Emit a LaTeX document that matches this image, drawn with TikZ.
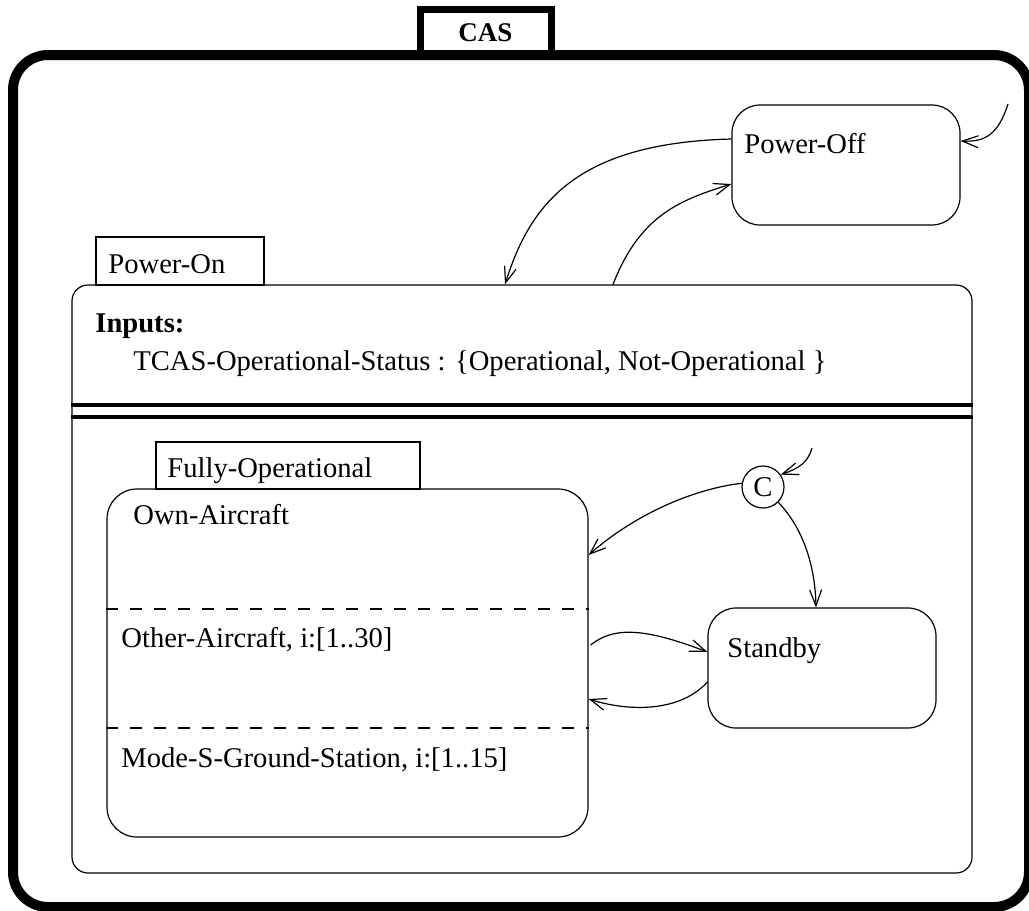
\documentclass[tikz,border=0pt]{standalone}
\usepackage{fontspec}
\setmainfont{Liberation Serif}
\usetikzlibrary{arrows.meta,calc}

\begin{document}
\begin{tikzpicture}[x=0.5pt, y=-0.5pt,
    state/.style={rectangle, draw, line width=0.6pt, rounded corners=14pt, minimum width=114pt, minimum height=60pt, inner sep=0pt},
    tab/.style={rectangle, draw, line width=0.6pt, inner sep=0pt},
    lbl/.style={anchor=base west, inner sep=0pt, font=\fontsize{14.3}{17}\selectfont},
    trans/.style={line width=0.6pt, -{Straight Barb[length=8pt,width=6pt]}}
]
\useasboundingbox (0,0) rectangle (1029,911);

% CAS chart
\node[tab, line width=3.5pt, minimum width=65.5pt, minimum height=23.5pt, font=\bfseries\fontsize{13.5}{16}\selectfont] (castab) at (485.5,32.5) {CAS};
\node[draw, line width=5pt, rounded corners=17.5pt, minimum width=508pt, minimum height=426pt] (cas) at (521,481) {};

% Power-Off
\node[state] (pwroff) at (846,165) {};
\node[lbl] (pwrofftxt) at (744,153) {Power-Off};
\coordinate (initoff) at (1008,104);

% Power-On
\node[tab, minimum width=84pt, minimum height=24pt] (pwrontab) at (180,261) {};
\node[lbl] (pwrontxt) at (108,273) {Power-On};
\node[draw, line width=0.6pt, rounded corners=8pt, minimum width=450pt, minimum height=294pt, inner sep=0pt] (pwron) at (522,579) {};
\node[lbl, font=\bfseries\fontsize{14.3}{17}\selectfont] (inputs) at (95,332) {Inputs:};
\node[lbl] (status) at (133,370) {TCAS-Operational-Status : \{Operational, Not-Operational \}};
\draw[line width=2pt] (pwron.west |- 0,405) -- (pwron.east |- 0,405);
\draw[line width=2pt] (pwron.west |- 0,417) -- (pwron.east |- 0,417);

% Fully-Operational
\node[tab, minimum width=132pt, minimum height=23.5pt] (fulltab) at (288,465.5) {};
\node[lbl] (fulltxt) at (167,477) {Fully-Operational};
\node[draw, line width=0.6pt, rounded corners=15pt, minimum width=240.5pt, minimum height=174pt, inner sep=0pt] (ownac) at (347.5,663) {};
\node[lbl] (owntxt) at (133,524) {Own-Aircraft};
\draw[line width=0.6pt, dash pattern=on 6pt off 6pt] (ownac.west |- 0,609) -- (ownac.east |- 0,609);
\node[lbl] (othertxt) at (121,647) {Other-Aircraft, i:[1..30]};
\draw[line width=0.6pt, dash pattern=on 6pt off 6pt] (ownac.west |- 0,728) -- (ownac.east |- 0,728);
\node[lbl] (modestxt) at (121,767) {Mode-S-Ground-Station, i:[1..15]};

% Condition and Standby
\node[circle, draw, line width=0.6pt, minimum size=21pt, inner sep=0pt, font=\fontsize{14.3}{17}\selectfont] (cnode) at (763,487) {C};
\coordinate (initc) at (812,448);
\node[state] (standby) at (822,668) {};
\node[lbl] (standbytxt) at (727,657) {Standby};

% Transitions
\draw[trans] (initoff) .. controls (998,135) and (985,142) .. ($(pwroff.east)+(0,-24)$);
\draw[trans] ($(pwroff.west)+(0,-26)$) .. controls (575,143) and (530,205) .. ($(pwron.north)+(-17,0)$);
\draw[trans] ($(pwron.north)+(91,0)$) .. controls (640,215) and (680,200) .. ($(pwroff.west)+(0,19)$);
\draw[trans] (initc) .. controls (808,462) and (800,468) .. (cnode.35);
\draw[trans] (cnode.170) .. controls (700,488) and (640,510) .. ($(ownac.east)+(0,-108)$);
\draw[trans] (cnode.-45) .. controls (800,525) and (815,560) .. ($(standby.north)+(-6,0)$);
\draw[trans] ($(ownac.east)+(2,-18)$) .. controls (612,628) and (640,626) .. ($(standby.west)+(0,-16)$);
\draw[trans] ($(standby.west)+(0,14)$) .. controls (680,712) and (630,712) .. ($(ownac.east)+(0,36)$);

\end{tikzpicture}
\end{document}
